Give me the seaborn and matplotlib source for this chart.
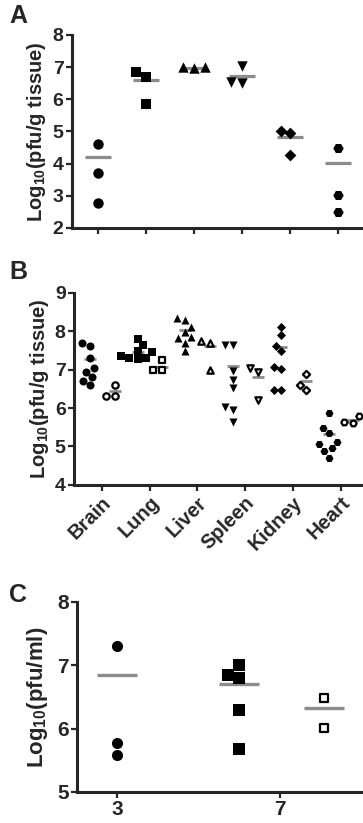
import matplotlib
matplotlib.use("Agg")
import matplotlib.pyplot as plt
import pandas as pd
import seaborn as sns

# ---- data ----
organs = ["Brain", "Lung", "Liver", "Spleen", "Kidney", "Heart"]
organ_markers = ["o", "s", "^", "v", "D", "H"]

# panel A: one group per organ
a_titers = [
    [4.61, 3.70, 2.79],
    [6.84, 5.85, 6.70],
    [6.99, 6.96, 7.00],
    [7.02, 6.50, 6.55],
    [5.00, 4.27, 4.94],
    [4.48, 2.49, 3.01],
]
a_means = [4.20, 6.61, 6.98, 6.74, 4.84, 4.02]

# panel B: filled and open groups per organ
b_filled = [
    [7.70, 7.61, 7.30, 7.04, 6.95, 6.80, 6.71, 6.60],
    [7.80, 7.65, 7.50, 7.45, 7.35, 7.30, 7.30, 7.28],
    [8.35, 8.30, 8.12, 7.98, 7.85, 7.82, 7.70, 7.48],
    [7.64, 7.64, 6.97, 6.73, 6.51, 6.03, 5.95, 5.64],
    [8.11, 7.90, 7.61, 7.50, 7.06, 7.02, 6.48, 6.48],
    [5.86, 5.49, 5.34, 5.12, 5.06, 4.95, 4.88, 4.71],
]
b_filled_means = [7.27, 7.46, 8.04, 7.10, 7.58, 5.33]
b_open = [
    [6.60, 6.32, 6.32],
    [7.25, 6.98, 6.98],
    [7.74, 7.70, 6.99],
    [7.04, 6.93, 6.22],
    [6.90, 6.60, 6.48],
    [5.80, 5.64, 5.62],
]
b_open_means = [6.44, 7.07, 7.62, 6.81, 6.70, 5.68]

# panel C: days post infection
c_days = ["3", "7"]
c_markers = ["o", "s"]
c_filled = [[7.31, 5.59, 5.77], [7.01, 6.80, 6.85, 6.30, 5.68]]
c_filled_means = [6.85, 6.71]
c_open = [[], [6.48, 6.01]]
c_open_means = [None, 6.32]

# ---- style ----
FILLED_SHIFT = -0.25
OPEN_SHIFT = 0.27
GREY = "#8c8c8c"

sns.set_style("ticks")
plt.rcParams["font.family"] = ["Liberation Sans", "DejaVu Sans"]
plt.rcParams["font.weight"] = "bold"
plt.rcParams["axes.labelweight"] = "bold"
plt.rcParams["mathtext.fontset"] = "custom"
plt.rcParams["mathtext.bf"] = "Liberation Sans:bold"
plt.rcParams["mathtext.rm"] = "Liberation Sans:bold"


def tidy(categories, filled, opened, filled_means, open_means):
    rows, mean_rows = [], []
    for i, cat in enumerate(categories):
        paired = len(opened[i]) > 0
        groups = [("filled", filled[i], filled_means[i]), ("open", opened[i], open_means[i])]
        for kind, vals, mean in groups:
            if not vals:
                continue
            shift = 0.0
            if paired:
                shift = FILLED_SHIFT if kind == "filled" else OPEN_SHIFT
            for v in vals:
                rows.append({"idx": i, "kind": kind, "pos": i + shift, "value": v})
            mean_rows.append({"pos": i + shift, "value": mean})
    return pd.DataFrame(rows), pd.DataFrame(mean_rows)


def draw_panel(ax, pts, means, markers, size, open_size, line_len, line_w, tick_size):
    for (i, kind), sub in pts.groupby(["idx", "kind"]):
        m = markers[i]
        scale = 0.8 if m == "D" else 1.0
        if kind == "filled":
            sns.swarmplot(data=sub, x="pos", y="value", native_scale=True, orient="x",
                          marker=m, size=size * scale, color="black", linewidth=0, ax=ax)
        else:
            sns.swarmplot(data=sub, x="pos", y="value", native_scale=True, orient="x",
                          marker=m, size=open_size * scale, color="white",
                          edgecolor="black", linewidth=1.6, ax=ax)
    sns.pointplot(data=means, x="pos", y="value", native_scale=True, orient="x",
                  color=GREY, markers="_", linestyles="none", errorbar=None,
                  markersize=line_len, markeredgewidth=line_w, ax=ax)
    sns.despine(ax=ax)
    for side in ["left", "bottom"]:
        ax.spines[side].set_linewidth(2.2)
    ax.tick_params(direction="out", length=4.5, width=1.6, labelsize=tick_size, pad=1.5)
    ax.set_xlabel("")


fig = plt.figure(figsize=(3.63, 8.23), dpi=100)

# panel A
ax_a = fig.add_axes([0.198, 0.723, 0.802, 0.2345])
pts, means = tidy(organs, a_titers, [[] for _ in organs], a_means, [None] * 6)
draw_panel(ax_a, pts, means, organ_markers, 7.5, 6, 19, 2.3, 14)
ax_a.set_xlim(-0.54, 5.53)
ax_a.set_ylim(2, 8)
ax_a.set_yticks(range(2, 9))
ax_a.set_xticks(range(len(organs)), [""] * len(organs))
ax_a.set_ylabel("Log$_{\\mathbf{10}}$(pfu/g tissue)", fontsize=14.5, labelpad=3)

# panel B
ax_b = fig.add_axes([0.204, 0.411, 0.796, 0.233])
pts, means = tidy(organs, b_filled, b_open, b_filled_means, b_open_means)
draw_panel(ax_b, pts, means, organ_markers, 5.8, 4.6, 8, 2.0, 14)
ax_b.set_xlim(-0.58, 5.47)
ax_b.set_ylim(4, 9)
ax_b.set_yticks(range(4, 10))
ax_b.set_xticks(range(len(organs)), organs, rotation=45, ha="right",
                rotation_mode="anchor", fontsize=14.5)
ax_b.set_ylabel("Log$_{\\mathbf{10}}$(pfu/g tissue)", fontsize=14.5, labelpad=3)

# panel C
ax_c = fig.add_axes([0.212, 0.0377, 0.788, 0.2309])
pts, means = tidy(c_days, c_filled, c_open, c_filled_means, c_open_means)
draw_panel(ax_c, pts, means, c_markers, 8, 6, 29.5, 2.4, 15)
ax_c.set_xlim(-0.245, 1.51)
ax_c.set_ylim(5, 8)
ax_c.set_yticks(range(5, 9))
ax_c.set_xticks(range(len(c_days)), c_days)
ax_c.set_ylabel("Log$_{\\mathbf{10}}$(pfu/ml)", fontsize=16, labelpad=5)

for letter, y in [("A", 0.966), ("B", 0.655), ("C", 0.262)]:
    fig.text(0.025, y, letter, fontsize=18, fontweight="bold", va="bottom")

fig.savefig("out.png", dpi=100)
plt.close(fig)
